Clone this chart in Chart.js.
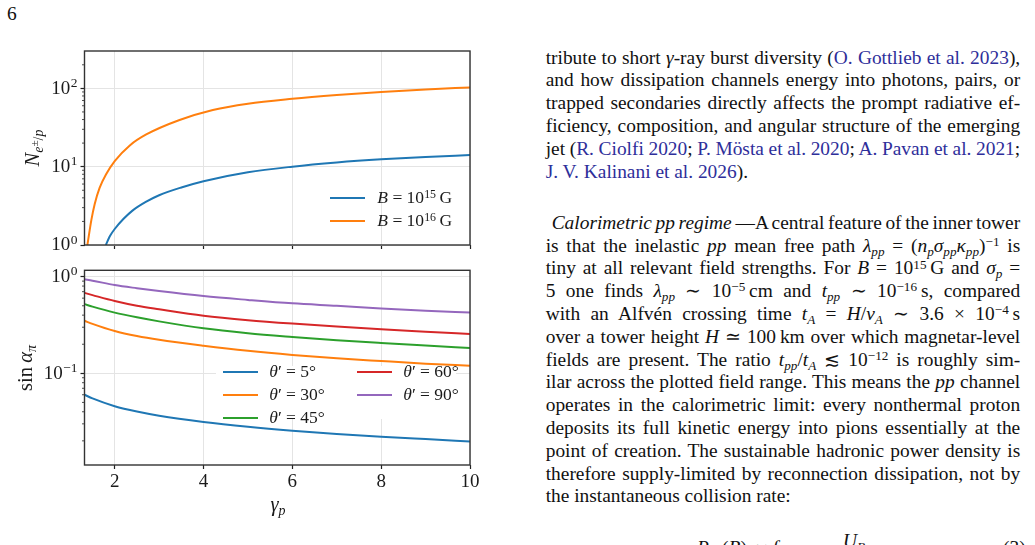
<!DOCTYPE html>
<html>
<head>
<meta charset="utf-8">
<script src="https://cdn.jsdelivr.net/npm/chart.js@4.4.1/dist/chart.umd.min.js"></script>
<style>
html, body { margin: 0; padding: 0; background: #fff; }
body { width: 1035px; height: 545px; position: relative; overflow: hidden; font-family: "Liberation Serif", serif; color: #111; }
canvas { position: absolute; left: 0; }
.abs { position: absolute; white-space: nowrap; }
.axt { position: absolute; white-space: nowrap; font-size: 20.5px; line-height: 1; color: #1a1a1a; transform: translate(-50%, -50%); }
.axt.rot { transform: translate(-50%, -50%) rotate(-90deg); }
.axt sub, .leg sub, .txt sub, .eq sub { font-size: 0.68em; line-height: 0; vertical-align: 0; position: relative; top: 0.3em; }
.axt sup, .leg sup, .txt sup, .eq sup { font-size: 0.68em; line-height: 0; vertical-align: 0; position: relative; top: -0.45em; }
.leg { position: absolute; white-space: nowrap; font-size: 17.5px; line-height: 1; color: #1a1a1a; }
.leg .sw { position: absolute; height: 2px; }
.leg .lb { position: absolute; transform: translateY(-50%); }
.box { position: absolute; background: #fff; }
.txt { position: absolute; left: 545.7px; width: 474.5px; font-size: 19.4px; line-height: 22.8px; color: #111; }
.txt > div { height: 22.8px; white-space: nowrap; }
.jl { display: inline-block; }
.c { color: #2e2e9a; }
.eq { position: absolute; font-size: 19.4px; line-height: 18px; white-space: nowrap; color: #111; }
</style>
</head>
<body>
<div class="abs" style="left:7px; top:3px; font-size:19.4px;">6</div>

<canvas id="topChart" width="500" height="260" style="top:0px;"></canvas>
<canvas id="bottomChart" width="500" height="290" style="top:255px;"></canvas>

<div class="axt rot" style="left:32px; top:148px;"><i>N</i><sub><i>e</i><sup style="font-size:0.8em">±</sup>/<i>p</i></sub></div>
<div class="axt rot" style="left:25px; top:368px;">sin&#8201;<i>α</i><sub><i>π</i></sub></div>
<div class="axt" style="left:278px; top:504px;"><i>γ</i><sub><i>p</i></sub></div>

<div class="box" style="left:216px; top:366px; width:240px; height:53px;"></div>
<div id="legTop"></div>
<div id="legBottom"></div>

<div class="txt" style="top:46.6px;">
<div><span class="jl">tribute to short <i>γ</i>-ray burst diversity (<span class="c">O. Gottlieb et al. 2023</span>),</span></div>
<div><span class="jl">and how dissipation channels energy into photons, pairs, or</span></div>
<div><span class="jl">trapped secondaries directly affects the prompt radiative ef-</span></div>
<div><span class="jl">ficiency, composition, and angular structure of the emerging</span></div>
<div><span class="jl">jet (<span class="c">R. Ciolfi 2020</span>; <span class="c">P. Mösta et al. 2020</span>; <span class="c">A. Pavan et al. 2021</span>;</span></div>
<div><span><span class="c">J. V. Kalinani et al. 2026</span>).</span></div>
</div>

<div class="txt" style="top:211.9px;">
<div style="padding-left:6px;"><span class="jl" data-w="468.5"><i>Calorimetric pp regime</i>&#8201;—A central feature of the inner tower</span></div>
<div><span class="jl">is that the inelastic <i>pp</i> mean free path <i>λ</i><sub><i>pp</i></sub> = (<i>n</i><sub><i>p</i></sub><i>σ</i><sub><i>pp</i></sub><i>κ</i><sub><i>pp</i></sub>)<sup>−1</sup> is</span></div>
<div><span class="jl">tiny at all relevant field strengths. For <i>B</i> = 10<sup>15</sup>&#8239;G and <i>σ</i><sub><i>p</i></sub> =</span></div>
<div><span class="jl">5 one finds <i>λ</i><sub><i>pp</i></sub> ∼ 10<sup>−5</sup>&#8239;cm and <i>t</i><sub><i>pp</i></sub> ∼ 10<sup>−16</sup>&#8239;s, compared</span></div>
<div><span class="jl">with an Alfvén crossing time <i>t</i><sub><i>A</i></sub> = <i>H</i>/<i>v</i><sub><i>A</i></sub> ∼ 3.6 × 10<sup>−4</sup>&#8239;s</span></div>
<div><span class="jl">over a tower height <i>H</i> ≃ 100&#8239;km over which magnetar-level</span></div>
<div><span class="jl">fields are present. The ratio <i>t</i><sub><i>pp</i></sub>/<i>t</i><sub><i>A</i></sub> ≲ 10<sup>−12</sup> is roughly sim-</span></div>
<div><span class="jl">ilar across the plotted field range. This means the <i>pp</i> channel</span></div>
<div><span class="jl">operates in the calorimetric limit: every nonthermal proton</span></div>
<div><span class="jl">deposits its full kinetic energy into pions essentially at the</span></div>
<div><span class="jl">point of creation. The sustainable hadronic power density is</span></div>
<div><span class="jl">therefore supply-limited by reconnection dissipation, not by</span></div>
<div><span>the instantaneous collision rate:</span></div>
</div>

<div class="eq" style="left:843px; top:532px;"><i>U</i><sub><i>B</i></sub></div>
<div class="eq" style="left:697px; top:539px;"><i>P</i><sub><i>pp</i></sub>(<i>B</i>) ≃ <i>f</i></div>
<div class="eq" style="left:1003px; top:539px;">(3)</div>

<script>
// top panel: pair yield per proton for two field strengths
var fieldExp = ['15', '16'];
var gammaB15 = [1.80, 1.85, 1.9, 2.0, 2.2, 2.4, 2.7, 3.0, 3.5, 4.0, 5, 6, 7, 8, 9, 10];
var pairsB15 = [1.0, 1.16, 1.32, 1.6, 2.16, 2.75, 3.55, 4.32, 5.43, 6.53, 8.49, 10.0, 11.3, 12.4, 13.3, 14.1];
var gammaB16 = [1.385, 1.475, 1.55, 1.66, 1.81, 2.0, 2.34, 2.71, 3.46, 4.21, 5, 6, 7, 8, 9, 10];
var pairsB16 = [1.0, 2.09, 3.34, 5.35, 8.07, 11.8, 18.7, 25.8, 39.5, 53, 63.8, 73.5, 82.0, 89.7, 96.6, 102.8];

// bottom panel: pion pitch angle for several injection angles
var angles = [5, 30, 45, 60, 90];
var gammaGrid = [1.32, 1.5, 2, 2.5, 3, 4, 5, 6, 7, 8, 9, 10];
var sinTheta5 = [0.060, 0.055, 0.0457, 0.0402, 0.0364, 0.0314, 0.0280, 0.0255, 0.0236, 0.0221, 0.02085, 0.0197];
var sinTheta30 = [0.35, 0.325, 0.274, 0.243, 0.222, 0.193, 0.171, 0.155, 0.143, 0.134, 0.126, 0.12];
var sinTheta45 = [0.52, 0.49, 0.425, 0.38, 0.345, 0.292, 0.26, 0.238, 0.22, 0.206, 0.194, 0.183];
var sinTheta60 = [0.68, 0.645, 0.56, 0.50, 0.46, 0.395, 0.355, 0.327, 0.305, 0.286, 0.27, 0.255];
var sinTheta90 = [0.94, 0.91, 0.82, 0.76, 0.71, 0.63, 0.575, 0.53, 0.50, 0.47, 0.445, 0.425];

var xTicks = [2, 4, 6, 8, 10];
var topDecades = [1, 10, 100];
var bottomDecades = [0.1, 1];

var colors = ['#1f77b4', '#ff7f0e', '#2ca02c', '#d62728', '#9467bd'];
var gridColor = '#e4e4e4';
var inkColor = '#1a1a1a';

function series(label, color, xs, ys) {
    return {
        label: label,
        borderColor: color,
        backgroundColor: color,
        borderWidth: 2,
        pointRadius: 0,
        fill: false,
        cubicInterpolationMode: 'monotone',
        data: xs.map(function(x, i) {
            return { x: x, y: ys[i] };
        })
    };
}

function minorValues(lo, hi) {
    var out = [];
    for (var e = Math.floor(Math.log10(lo)); e <= Math.ceil(Math.log10(hi)); e++) {
        for (var m = 2; m <= 9; m++) {
            var v = m * Math.pow(10, e);
            if (v > lo && v < hi) out.push(v);
        }
    }
    return out;
}

// frame, minor y ticks and 10^n labels
var axisDecor = {
    id: 'axisDecor',
    afterDraw: function(chart, args, opts) {
        var ctx = chart.ctx, a = chart.chartArea, ys = chart.scales.y;
        ctx.save();
        ctx.strokeStyle = '#222';
        ctx.lineWidth = 0.8;
        minorValues(ys.min, ys.max).forEach(function(v) {
            var py = ys.getPixelForValue(v);
            ctx.beginPath();
            ctx.moveTo(a.left - 2.5, py);
            ctx.lineTo(a.left, py);
            ctx.stroke();
        });
        ctx.strokeStyle = '#333';
        ctx.lineWidth = 1.4;
        ctx.strokeRect(a.left, a.top, a.right - a.left, a.bottom - a.top);

        ctx.fillStyle = inkColor;
        ctx.textBaseline = 'middle';
        opts.decades.forEach(function(v) {
            var py = ys.getPixelForValue(v);
            var exp = String(Math.round(Math.log10(v))).replace('-', '\u2212');
            ctx.font = '13.5px "Liberation Serif"';
            var ew = ctx.measureText(exp).width;
            ctx.textAlign = 'left';
            ctx.fillText(exp, 77.5 - ew, py - 5);
            ctx.font = '19px "Liberation Serif"';
            ctx.textAlign = 'right';
            ctx.fillText('10', 77 - ew, py + 0.5);
        });
        ctx.restore();
    }
};

function makeChart(id, datasets, yMin, yMax, decades, padTop, xHeight, showX) {
    return new Chart(document.getElementById(id), {
        type: 'line',
        data: { datasets: datasets },
        plugins: [axisDecor],
        options: {
            responsive: false,
            animation: false,
            devicePixelRatio: 1,
            layout: { padding: { top: padTop, right: 30, left: 0, bottom: 0 } },
            plugins: {
                legend: { display: false },
                tooltip: { enabled: false },
                axisDecor: { decades: decades }
            },
            scales: {
                x: {
                    type: 'linear',
                    min: 1.32,
                    max: 10,
                    afterBuildTicks: function(s) {
                        s.ticks = xTicks.map(function(v) { return { value: v }; });
                    },
                    afterFit: function(s) { s.height = xHeight; },
                    border: { display: false },
                    grid: { color: gridColor, lineWidth: 1, tickLength: 4, tickColor: '#222', tickWidth: 1.2 },
                    ticks: {
                        display: showX,
                        autoSkip: false,
                        maxRotation: 0,
                        padding: 2,
                        color: inkColor,
                        font: { family: 'Liberation Serif', size: 19 }
                    }
                },
                y: {
                    type: 'logarithmic',
                    min: yMin,
                    max: yMax,
                    afterBuildTicks: function(s) {
                        s.ticks = decades.map(function(v) { return { value: v }; });
                    },
                    afterFit: function(s) { s.width = 84.5; },
                    border: { display: false },
                    grid: { color: gridColor, lineWidth: 1, tickLength: 4, tickColor: '#222', tickWidth: 1.2 },
                    ticks: { display: false }
                }
            }
        }
    });
}

var topChart = makeChart('topChart', [
    series('B = 10^' + fieldExp[0] + ' G', colors[0], gammaB15, pairsB15),
    series('B = 10^' + fieldExp[1] + ' G', colors[1], gammaB16, pairsB16)
], 1, 300, topDecades, 51, 15, false);

var sinSeries = [sinTheta5, sinTheta30, sinTheta45, sinTheta60, sinTheta90];
var bottomChart = makeChart('bottomChart', angles.map(function(ang, i) {
    return series("\u03b8' = " + ang + '\u00b0', colors[i], gammaGrid, sinSeries[i]);
}), 0.01125, 1.165, bottomDecades, 15.3, 80, true);

// html legends, built from the chart datasets
function legendRow(host, color, html, x, y, swW, textX) {
    var row = document.createElement('div');
    row.className = 'leg';
    row.style.left = x + 'px';
    row.style.top = y + 'px';
    row.innerHTML = '<span class="sw" style="left:0;top:-1px;width:' + swW + 'px;background:' + color + '"></span>' +
        '<span class="lb" style="left:' + textX + 'px;top:0">' + html + '</span>';
    host.appendChild(row);
}

var legTop = document.getElementById('legTop');
topChart.data.datasets.forEach(function(ds, i) {
    legendRow(legTop, ds.borderColor, '<i>B</i> = 10<sup>' + fieldExp[i] + '</sup>&#8201;G', 330, 198.3 + i * 22.7, 35, 47.3);
});

var legBottom = document.getElementById('legBottom');
bottomChart.data.datasets.forEach(function(ds, i) {
    var col = i < 3 ? 0 : 1;
    var row = i < 3 ? i : i - 3;
    var x = col === 0 ? 223.3 : 357.3;
    legendRow(legBottom, ds.borderColor, '<i>θ</i>′ = ' + angles[i] + '°', x, 372.3 + row * 22.7, 34.5, 46);
});

// stretch or squeeze word spacing so each line fills the column
document.querySelectorAll('.jl').forEach(function(el) {
    var target = parseFloat(el.getAttribute('data-w') || '474.5');
    var w = el.getBoundingClientRect().width;
    var n = (el.textContent.match(/ /g) || []).length;
    if (n) el.style.wordSpacing = ((target - w) / n) + 'px';
});
</script>
</body>
</html>
